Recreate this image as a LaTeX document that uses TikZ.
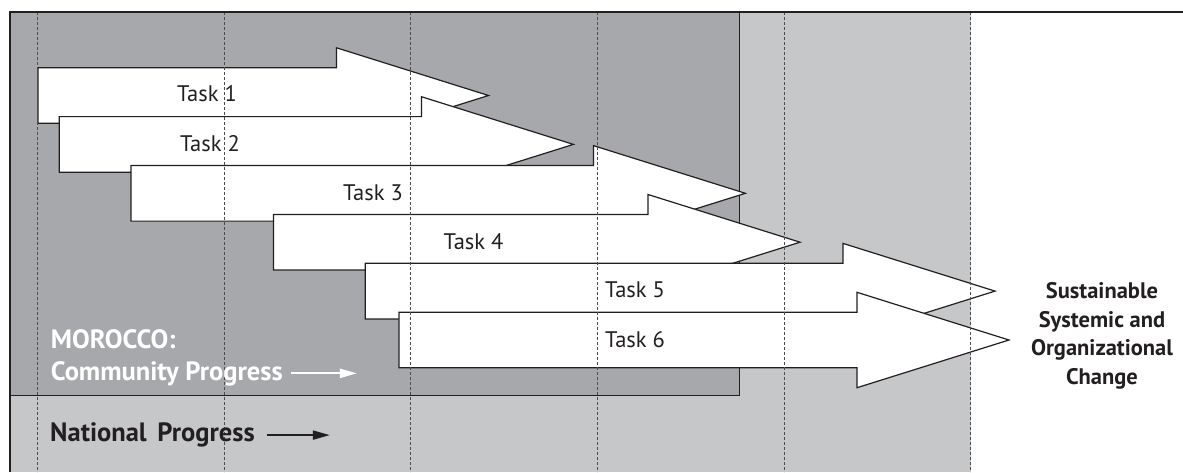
\documentclass[tikz,border=0pt]{standalone}
\usepackage{fontspec}
\setmainfont{PT Sans}
\usetikzlibrary{arrows.meta}
\definecolor{darkband}{RGB}{167,168,172}
\definecolor{lightband}{RGB}{198,199,201}
\definecolor{inkgrey}{RGB}{35,31,32}
\def\taskarrow[#1](#2:#3:#4){\draw[#1] (#2,#4-27.8) -- (#3,#4-27.8) -- (#3,#4-47.7) -- (#3+152,#4) -- (#3,#4+47.7) -- (#3,#4+27.8) -- (#2,#4+27.8) -- cycle;}

\begin{document}
\begin{tikzpicture}[x=1pt, y=-1pt,
		tasklabel/.style={anchor=base, inner sep=0pt, color=inkgrey, font=\fontsize{22.5}{26}\selectfont},
		bandlabel/.style={anchor=base west, inner sep=0pt, font=\bfseries\fontsize{26.5}{30}\selectfont},
		gridline/.style={line width=0.8pt, color=black!70, dash pattern=on 3pt off 2pt}]
		%%%%% START %%%%%
		\useasboundingbox (0, 0) rectangle (1183, 472);
		
		\fill[color=lightband] (9, 12) rectangle (970.6, 472);
		\fill[color=darkband] (9, 12) rectangle (739, 395);
		\draw[line width=1pt, color=inkgrey] (9, 395) -- (739, 395) -- (739, 12);
		
		\taskarrow[line width=1.2pt, color=inkgrey, fill=white](38:336.5:95.5);
		\node[tasklabel] (task1) at (207, 101) {Task 1};
		
		\taskarrow[line width=1.2pt, color=inkgrey, fill=white](59.3:421.4:144.4);
		\node[tasklabel] (task2) at (210, 151.5) {Task 2};
		
		\taskarrow[line width=1.2pt, color=inkgrey, fill=white](131:593.4:193.3);
		\node[tasklabel] (task3) at (373, 200) {Task 3};
		
		\taskarrow[line width=1.2pt, color=inkgrey, fill=white](273.4:648:242.2);
		\node[tasklabel] (task4) at (473.5, 249) {Task 4};
		
		\taskarrow[line width=1.2pt, color=inkgrey, fill=white](365.2:843:291.1);
		\node[tasklabel] (task5) at (635, 297.5) {Task 5};
		
		\taskarrow[line width=1.2pt, color=inkgrey, fill=white](398.9:857:340);
		\node[tasklabel] (task6) at (635, 347) {Task 6};
		
		\draw[gridline] (37, 12) -- (37, 472);
		\draw[gridline] (224, 12) -- (224, 472);
		\draw[gridline] (410.5, 12) -- (410.5, 472);
		\draw[gridline] (597.3, 12) -- (597.3, 472);
		\draw[gridline] (784, 12) -- (784, 472);
		\draw[gridline] (970.6, 12) -- (970.6, 472);
		
		\draw[line width=2.2pt, color=inkgrey] (10, 472) -- (10, 12) -- (1183, 12);
		
		\node[bandlabel, color=white] (morocco) at (50.7, 348.3) {MOROCCO:};
		\node[bandlabel, color=white] (community) at (50.7, 380) {Community Progress};
		\coordinate (communitytip) at ([xshift=74pt]community.east);
		\draw[line width=2pt, color=white, -{Triangle[length=17pt, width=9pt]}] ([xshift=8.5pt]community.east) -- (communitytip);
		
		\node[bandlabel, color=inkgrey] (national) at (50, 441.7) {National\hspace{4pt} Progress};
		\coordinate (nationaltip) at ([xshift=75pt]national.east);
		\draw[line width=2pt, color=inkgrey, -{Triangle[length=17pt, width=9pt]}] ([xshift=12pt]national.east) -- (nationaltip);
		
		\node[align=center, color=inkgrey, font=\bfseries\fontsize{22.5}{28.5}\selectfont] (change) at (1102, 336) {Sustainable\\Systemic and\\Organizational\\Change};
		
		%%%%% END %%%%%
\end{tikzpicture}
\end{document}
